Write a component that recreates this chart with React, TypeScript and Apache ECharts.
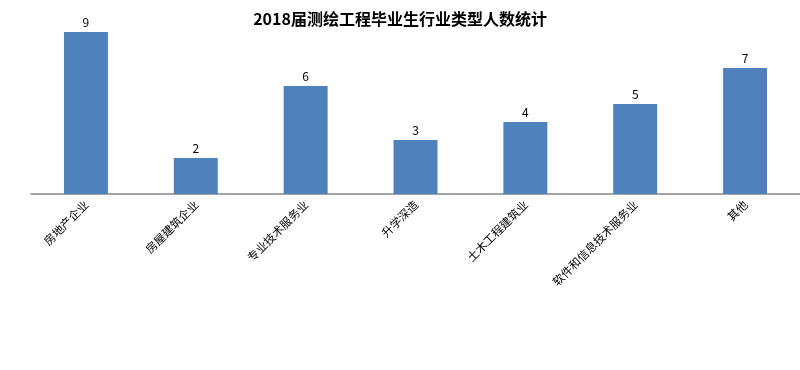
import React, { useEffect, useRef } from "react";
import * as echarts from "echarts";

const categories = ["房地产企业", "房屋建筑企业", "专业技术服务业", "升学深造", "土木工程建筑业", "软件和信息技术服务业", "其他"];
const values = [9, 2, 6, 3, 4, 5, 7];
const titleText = "2018届测绘工程毕业生行业类型人数统计";

export default function App() {
  const ref = useRef<HTMLDivElement>(null);
  useEffect(() => {
    const chart = echarts.init(ref.current!, null, { renderer: "svg" });
    chart.setOption({
      animation: false,
      title: {
        text: titleText,
        left: "center",
        top: 5,
        textStyle: { fontSize: 16, fontWeight: "bold", color: "#000", fontFamily: "Noto Sans CJK SC" },
      },
      grid: { left: 31, right: -1, top: 32, bottom: 176, containLabel: false },
      xAxis: {
        type: "category",
        data: categories,
        axisLine: { lineStyle: { color: "#868686", width: 1.5 } },
        axisTick: { show: false },
        axisLabel: {
          rotate: 45,
          interval: 0,
          fontSize: 11.5,
          color: "#000",
          margin: 8,
          fontFamily: "Noto Sans CJK SC",
        },
      },
      yAxis: {
        type: "value",
        min: 0,
        max: 9,
        show: false,
        splitLine: { show: false },
      },
      series: [
        {
          type: "bar",
          data: values,
          barWidth: "40%",
          itemStyle: { color: "#4F81BD" },
          label: {
            show: true,
            position: "top",
            distance: 5,
            fontSize: 12,
            color: "#000",
            fontFamily: "Noto Sans CJK SC",
          },
        },
      ],
    });
    return () => chart.dispose();
  }, []);
  return <div ref={ref} style={{ position: "fixed", left: 0, top: 0, width: 800, height: 370 }} />;
}
